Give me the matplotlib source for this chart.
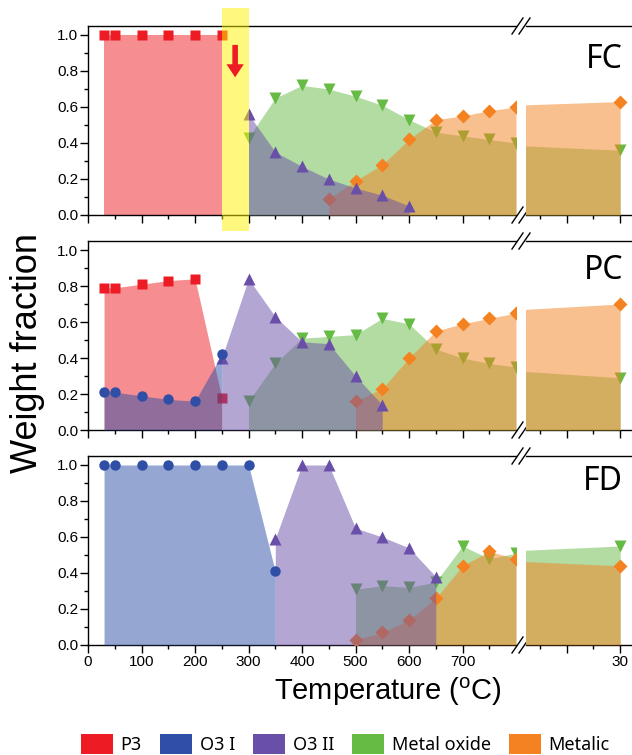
import numpy as np
import matplotlib
matplotlib.use("Agg")
import matplotlib.pyplot as plt
import matplotlib.transforms as mtransforms
from matplotlib.patches import Patch, Rectangle
from matplotlib.ticker import MultipleLocator, FixedLocator

plt.rcParams['font.family'] = ['Liberation Sans', 'DejaVu Sans']
plt.rcParams['mathtext.fontset'] = 'custom'
plt.rcParams['mathtext.rm'] = 'Liberation Sans'

nan = np.nan

# ----------------------------- data ------------------------------------------
TEMPS = [30, 50, 100, 150, 200, 250, 300, 350, 400, 450, 500, 550, 600, 650, 700, 750, 800]
HOLD  = [0, 30]          # second x segment (800 value carried over, end point "30")

# FC
fc_p3    = [1.00, 1.00, 1.00, 1.00, 1.00, 1.00, nan, nan, nan, nan, nan, nan, nan, nan, nan, nan, nan]
fc_o3ii  = [nan, nan, nan, nan, nan, nan, 0.56, 0.35, 0.27, 0.20, 0.15, 0.11, 0.05, nan, nan, nan, nan]
fc_mox   = [nan, nan, nan, nan, nan, nan, 0.43, 0.65, 0.72, 0.70, 0.66, 0.61, 0.53, 0.46, 0.44, 0.42, 0.40]
fc_met   = [nan, nan, nan, nan, nan, nan, nan, nan, nan, 0.09, 0.19, 0.28, 0.42, 0.53, 0.55, 0.58, 0.60]
fc_mox_30 = 0.36
fc_met_30 = 0.63

# PC
pc_p3    = [0.79, 0.79, 0.81, 0.83, 0.84, 0.18, nan, nan, nan, nan, nan, nan, nan, nan, nan, nan, nan]
pc_o3i   = [0.21, 0.21, 0.19, 0.17, 0.16, 0.42, nan, nan, nan, nan, nan, nan, nan, nan, nan, nan, nan]
pc_o3ii  = [nan, nan, nan, nan, nan, 0.40, 0.84, 0.63, 0.49, 0.48, 0.30, 0.14, nan, nan, nan, nan, nan]
pc_mox   = [nan, nan, nan, nan, nan, nan, 0.16, 0.37, 0.51, 0.52, 0.53, 0.62, 0.59, 0.45, 0.40, 0.37, 0.35]
pc_met   = [nan, nan, nan, nan, nan, nan, nan, nan, nan, nan, 0.16, 0.23, 0.40, 0.55, 0.59, 0.62, 0.65]
pc_mox_30 = 0.29
pc_met_30 = 0.70

# FD
fd_o3i   = [1.00, 1.00, 1.00, 1.00, 1.00, 1.00, 1.00, 0.41, nan, nan, nan, nan, nan, nan, nan, nan, nan]
fd_o3ii  = [nan, nan, nan, nan, nan, nan, nan, 0.59, 1.00, 1.00, 0.65, 0.60, 0.54, 0.38, nan, nan, nan]
fd_mox   = [nan, nan, nan, nan, nan, nan, nan, nan, nan, nan, 0.31, 0.33, 0.32, 0.35, 0.55, 0.48, 0.51]
fd_met   = [nan, nan, nan, nan, nan, nan, nan, nan, nan, nan, 0.03, 0.07, 0.14, 0.26, 0.44, 0.52, 0.48]
fd_mox_30 = 0.55
fd_met_30 = 0.44

PHASES = ['P3', 'O3 I', 'O3 II', 'Metal oxide', 'Metalic']
COLORS = {'P3': '#ED1C24', 'O3 I': '#2F4EA6', 'O3 II': '#6A4FA8',
          'Metal oxide': '#66BB44', 'Metalic': '#F58220'}
MARKERS = {'P3': ('s', 7), 'O3 I': ('o', 7.5), 'O3 II': ('^', 8.5),
           'Metal oxide': ('v', 8.5), 'Metalic': ('D', 7)}
DRAW_ORDER = ['P3', 'Metal oxide', 'Metalic', 'O3 II', 'O3 I']

panels = [
    ('FC', {'P3': fc_p3, 'O3 II': fc_o3ii, 'Metal oxide': fc_mox, 'Metalic': fc_met},
           {'Metal oxide': fc_mox_30, 'Metalic': fc_met_30}),
    ('PC', {'P3': pc_p3, 'O3 I': pc_o3i, 'O3 II': pc_o3ii, 'Metal oxide': pc_mox, 'Metalic': pc_met},
           {'Metal oxide': pc_mox_30, 'Metalic': pc_met_30}),
    ('FD', {'O3 I': fd_o3i, 'O3 II': fd_o3ii, 'Metal oxide': fd_mox, 'Metalic': fd_met},
           {'Metal oxide': fd_mox_30, 'Metalic': fd_met_30}),
]

# ----------------------------- layout (pixels) -------------------------------
W, H = 632, 755
X_L0, X_L1 = 88, 516      # temperature segment
X_R0, X_R1 = 526, 640     # hold segment (runs off the right edge)
PANEL_BOTTOMS = [215, 430, 645]
PANEL_H = 189
LABEL_Y = [60, 270, 482]


def style_axis(ax):
    for s in ax.spines.values():
        s.set_linewidth(1.0)
    ax.tick_params(which='major', direction='out', length=5.5, width=1.0,
                   labelsize=11, pad=1.5)
    ax.tick_params(which='minor', direction='out', length=3.2, width=1.0)
    ax.set_ylim(0, 1.05)


def break_marks(ax):
    # two small "//" on top and bottom spines, drawn in axes fraction
    w = ax.get_position().width * W
    h = ax.get_position().height * H
    for yb in (0, 1):
        for off in (0, 7):
            x0 = 1 + (off - 4) / w
            x1 = 1 + (off + 7) / w
            ax.plot([x0, x1], [yb - 8 / h, yb + 8 / h], color='black', lw=1.0,
                    transform=ax.transAxes, clip_on=False, zorder=30)


fig = plt.figure(figsize=(W / 100, H / 100), dpi=100)

for i, (tag, series, end_vals) in enumerate(panels):
    bottom = 1 - PANEL_BOTTOMS[i] / H
    axl = fig.add_axes([X_L0 / W, bottom, (X_L1 - X_L0) / W, PANEL_H / H])
    axr = fig.add_axes([X_R0 / W, bottom, (X_R1 - X_R0) / W, PANEL_H / H])
    for ax in (axl, axr):
        style_axis(ax)

    axl.set_xlim(0, 800)
    axl.spines['right'].set_visible(False)
    axl.xaxis.set_major_locator(FixedLocator([0, 100, 200, 300, 400, 500, 600, 700]))
    axl.xaxis.set_minor_locator(FixedLocator([50, 150, 250, 350, 450, 550, 650, 750]))
    axl.yaxis.set_minor_locator(MultipleLocator(0.1))
    axl.set_yticks([0, 0.2, 0.4, 0.6, 0.8, 1.0])
    axl.set_yticklabels(['0.0', '0.2', '0.4', '0.6', '0.8', '1.0'])

    axr.set_xlim(12.4, 33.7)
    axr.spines['left'].set_visible(False)
    axr.set_yticks([])
    axr.set_xticks([20, 30])
    axr.set_xticklabels(['', '30'])
    axr.xaxis.set_minor_locator(FixedLocator([15, 25]))

    if i < 2:
        axl.tick_params(labelbottom=False)
        axr.tick_params(labelbottom=False)

    z = 2
    for ph in DRAW_ORDER:
        if ph not in series:
            continue
        y = np.array(series[ph], dtype=float)
        col = COLORS[ph]
        mk, ms = MARKERS[ph]
        axl.fill_between(TEMPS, 0, y, color=col, alpha=0.5, lw=0, zorder=z)
        axl.plot(TEMPS, y, ls='none', marker=mk, ms=ms, color=col,
                 mec='none', zorder=z + 1, clip_on=True)
        if ph in end_vals:
            yr = [y[-1], end_vals[ph]]
            axr.fill_between(HOLD, 0, yr, color=col, alpha=0.5, lw=0, zorder=z)
            axr.plot(HOLD[-1:], yr[-1:], ls='none', marker=mk, ms=ms, color=col,
                     mec='none', zorder=z + 1, clip_on=False)
        z += 2

    break_marks(axl)
    fig.text(623 / W, 1 - LABEL_Y[i] / H, tag, fontsize=23, family='Noto Sans',
             ha='right', va='center')

    if tag == 'FC':
        trans = mtransforms.blended_transform_factory(axl.transData, axl.transAxes)
        band = Rectangle((250, -16 / PANEL_H), 50, (PANEL_H + 16 + 18) / PANEL_H,
                         transform=trans, facecolor='#FFF200', alpha=0.5, lw=0,
                         clip_on=False, zorder=25)
        axl.add_patch(band)
        axl.annotate('', xy=(275, 0.765), xytext=(275, 0.945),
                     arrowprops=dict(arrowstyle='simple,head_length=0.47,head_width=0.62,tail_width=0.2',
                                     color='#ED1C24', lw=0, shrinkA=0, shrinkB=0,
                                     mutation_scale=20),
                     zorder=26)

fig.text(28 / W, 1 - 353 / H, 'Weight fraction', rotation=90, fontsize=26,
         ha='center', va='center')
fig.text(388 / W, 1 - 692 / H, r'Temperature ($\mathregular{^o}$C)', fontsize=21,
         ha='center', va='center')

handles = [Patch(facecolor=COLORS[p], edgecolor='none', label=p) for p in PHASES]
fig.legend(handles=handles, loc='center left', bbox_to_anchor=(81 / W, 1 - 744 / H),
           ncol=5, frameon=False, borderpad=0, borderaxespad=0,
           handlelength=1.75, handleheight=1.4, handletextpad=0.45, columnspacing=1.0,
           prop={'family': 'Noto Sans', 'size': 13})

fig.savefig('out.png', dpi=100)
